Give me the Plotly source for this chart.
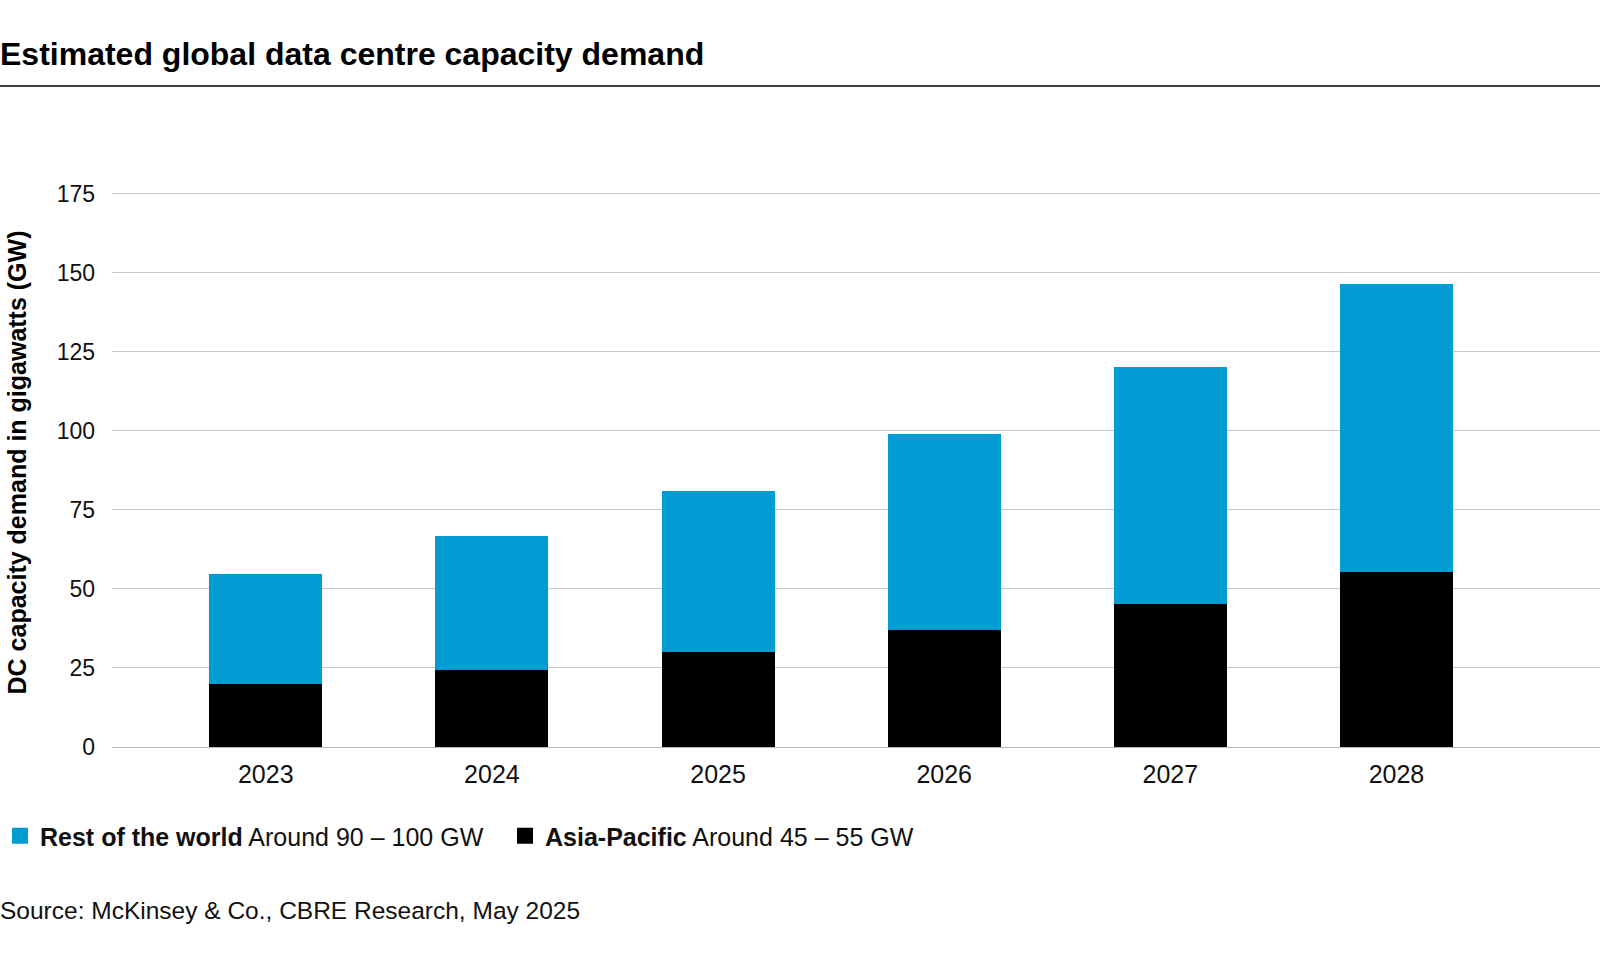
import plotly.graph_objects as go

years = ["2023", "2024", "2025", "2026", "2027", "2028"]
asia_pacific = [20, 24.4, 30, 37, 45.3, 55.5]
rest_of_world = [34.7, 42.3, 51, 61.9, 75, 91]
y_ticks = [0, 25, 50, 75, 100, 125, 150, 175]

BLUE = "#009cd3"
FONT = "Liberation Sans"

fig = go.Figure()

fig.add_trace(go.Bar(x=years, y=asia_pacific, name="Asia-Pacific",
                     marker=dict(color="black", line=dict(width=0)),
                     showlegend=False))
fig.add_trace(go.Bar(x=years, y=rest_of_world, name="Rest of the world",
                     marker=dict(color=BLUE, line=dict(width=0)),
                     showlegend=False))

# legend entries (bigger squares than the bar legend icon)
fig.add_trace(go.Scatter(x=[None], y=[None], mode="markers",
                         name="<b>Rest of the world</b> Around 90 – 100 GW",
                         marker=dict(symbol="square", size=16, color=BLUE)))
fig.add_trace(go.Scatter(x=[None], y=[None], mode="markers",
                         name="<b>Asia-Pacific</b> Around 45 – 55 GW",
                         marker=dict(symbol="square", size=16, color="black")))

L, T, B = 112, 178, 215
W, H = 1600, 962
plot_h = H - T - B
plot_w = W - L

fig.update_layout(
    width=W, height=H,
    barmode="stack",
    bargap=0.5,
    plot_bgcolor="white",
    paper_bgcolor="white",
    margin=dict(l=L, r=0, t=T, b=B),
    font=dict(family=FONT, size=23, color="#111111"),
    title=dict(text="<b>Estimated global data centre capacity demand</b>",
               font=dict(family=FONT, size=32, color="black"),
               xref="container", yref="container", x=0, y=1 - 54 / H,
               xanchor="left", yanchor="middle", pad=dict(l=0)),
    legend=dict(orientation="h", xref="container", yref="container",
                x=0, y=1 - 836 / H, xanchor="left", yanchor="middle",
                font=dict(size=25, color="#111111"),
                entrywidth=460, entrywidthmode="pixels",
                itemsizing="trace", traceorder="normal"),
    xaxis=dict(range=[-0.68, 5.9], showgrid=False, showline=False,
               ticks="", tickfont=dict(size=25), ticklabelstandoff=10),
    yaxis=dict(range=[0, 180], tickvals=y_ticks, showgrid=True,
               gridcolor="#c8c8c8", gridwidth=1, zeroline=True,
               zerolinecolor="#b8b8b8", zerolinewidth=1,
               ticks="", tickfont=dict(size=23), ticklabelstandoff=16,
               title=dict(text="<b>DC capacity demand in gigawatts (GW)</b>",
                          font=dict(size=25, color="black"), standoff=22)),
    showlegend=True,
)

# rule under the title
fig.add_shape(type="line", xref="paper", yref="paper",
              x0=-L / plot_w, x1=1, y0=(H - B - 86) / plot_h, y1=(H - B - 86) / plot_h,
              line=dict(color="black", width=1.5))

fig.add_annotation(text="Source: McKinsey & Co., CBRE Research, May 2025",
                   xref="paper", yref="paper", x=-(L + 2) / plot_w, y=(H - B - 910) / plot_h,
                   xanchor="left", yanchor="middle", showarrow=False,
                   font=dict(size=24.5, color="#111111"))

fig.write_html("out.html", config={"displayModeBar": False},
               post_script="document.body.style.margin='0';")
